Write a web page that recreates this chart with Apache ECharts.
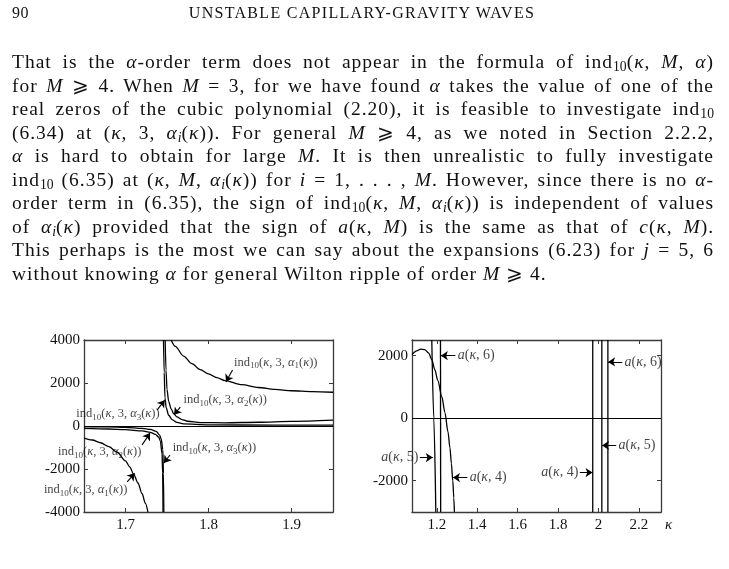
<!DOCTYPE html>
<html>
<head>
<meta charset="utf-8">
<script src="https://cdn.jsdelivr.net/npm/echarts@6/dist/echarts.min.js"></script>
<style>
  html, body { margin: 0; padding: 0; background: #fff; }
  #page { position: relative; width: 729px; height: 569px; overflow: hidden;
          font-family: 'Liberation Serif', 'DejaVu Serif', serif; color: #111; }
  #chart { position: absolute; left: 0; top: 0; width: 729px; height: 569px; }
  #head { position: absolute; top: 4px; left: 12px; width: 700px; font-size: 16px; line-height: 18px; z-index: 2; }
  #head .pg { position: absolute; left: 0; top: 0; letter-spacing: 0.5px; }
  #head .title { text-align: center; letter-spacing: 1.3px; }
  #text { position: absolute; left: 12px; top: 50px; width: 702px; font-size: 19.5px; line-height: 23.5px;
          letter-spacing: 1px; z-index: 2; }
  #text div { text-align: justify; text-align-last: justify; }
  #text div.last { text-align-last: left; }
  #text sub { font-size: 0.7em; vertical-align: -0.25em; line-height: 0; letter-spacing: 0; }
</style>
</head>
<body>
<div id="page">
  <div id="head"><span class="pg">90</span><div class="title">UNSTABLE CAPILLARY-GRAVITY WAVES</div></div>
  <div id="text">
    <div>That is the <i>α</i>-order term does not appear in the formula of ind<sub>10</sub>(<i>κ</i>, <i>M</i>, <i>α</i>)</div>
    <div>for <i>M</i> ⩾ 4. When <i>M</i> = 3, for we have found <i>α</i> takes the value of one of the</div>
    <div>real zeros of the cubic polynomial (2.20), it is feasible to investigate ind<sub>10</sub></div>
    <div>(6.34) at (<i>κ</i>, 3, <i>α<sub>i</sub></i>(<i>κ</i>)). For general <i>M</i> ⩾ 4, as we noted in Section 2.2.2,</div>
    <div><i>α</i> is hard to obtain for large <i>M</i>. It is then unrealistic to fully investigate</div>
    <div>ind<sub>10</sub> (6.35) at (<i>κ</i>, <i>M</i>, <i>α<sub>i</sub></i>(<i>κ</i>)) for <i>i</i> = 1, . . . , <i>M</i>. However, since there is no <i>α</i>-</div>
    <div>order term in (6.35), the sign of ind<sub>10</sub>(<i>κ</i>, <i>M</i>, <i>α<sub>i</sub></i>(<i>κ</i>)) is independent of values</div>
    <div>of <i>α<sub>i</sub></i>(<i>κ</i>) provided that the sign of <i>a</i>(<i>κ</i>, <i>M</i>) is the same as that of <i>c</i>(<i>κ</i>, <i>M</i>).</div>
    <div>This perhaps is the most we can say about the expansions (6.23) for <i>j</i> = 5, 6</div>
    <div class="last">without knowing <i>α</i> for general Wilton ripple of order <i>M</i> ⩾ 4.</div>
  </div>
  <div id="chart"></div>
</div>
<script>
// ---- left panel: ind10(kappa, 3, alpha_i(kappa)), each branch split at its pole
const ind1Low  = [[1.65,-560],[1.66,-650],[1.67,-780],[1.68,-960],[1.69,-1220],[1.70,-1620],[1.705,-1900],[1.71,-2250],[1.715,-2650],[1.72,-3150],[1.724,-3600],[1.727,-4000]];
const ind1High = [[1.755,4000],[1.76,3700],[1.77,3250],[1.78,2900],[1.79,2620],[1.80,2420],[1.81,2250],[1.82,2110],[1.84,1920],[1.86,1790],[1.88,1700],[1.90,1640],[1.925,1600],[1.95,1570]];
const ind2Low  = [[1.65,-25],[1.68,-40],[1.70,-60],[1.72,-110],[1.73,-160],[1.737,-250],[1.741,-420],[1.743,-600],[1.745,-1100],[1.7457,-2200],[1.7462,-4000]];
const ind2High = [[1.7478,4000],[1.7488,2600],[1.75,1700],[1.752,1150],[1.755,800],[1.758,580],[1.762,420],[1.768,300],[1.775,220],[1.79,160],[1.82,150],[1.86,175],[1.90,215],[1.95,270]];
const ind3Low  = [[1.65,-110],[1.68,-140],[1.70,-170],[1.72,-230],[1.73,-300],[1.736,-390],[1.74,-520],[1.742,-700],[1.744,-1300],[1.7448,-2200],[1.7452,-4000]];
const ind3High = [[1.7458,4000],[1.7466,2500],[1.7476,1300],[1.749,850],[1.752,500],[1.756,300],[1.762,170],[1.77,100],[1.80,55],[1.88,40],[1.95,40]];

// ---- right panel: a(kappa, M) for M = 4, 5, 6
const a4Near = [[1.077,2030],[1.10,2150],[1.12,2210],[1.14,2190],[1.16,2080],[1.175,1870],[1.19,1550],[1.205,1200],[1.225,680],[1.24,180],[1.255,-430],[1.265,-950],[1.272,-1450],[1.279,-2000],[1.284,-2550],[1.287,-3000]];
const a5Near = [[1.175,2500],[1.185,0],[1.195,-3000]];
const a6Near = [[1.218,2500],[1.219,-3000]];
const a4Far  = [[1.972,2500],[1.972,-3000]];
const a5Far  = [[2.017,2500],[2.017,-3000]];
const a6Far  = [[2.047,2500],[2.047,-3000]];

// ticks
const xTicksL = [1.7, 1.8, 1.9];
const yTicksL = [-4000, -2000, 0, 2000, 4000];
const xTicksR = [1.2, 1.4, 1.6, 1.8, 2, 2.2];
const yTicksR = [-2000, 0, 2000];

// annotations: [anchor, text key, side] and arrows [from, to] in data units
const notesL = [
  [[1.829, 2950], 'ind:1', 'right'],
  [[1.768, 1200], 'ind:2', 'right'],
  [[1.743, 560], 'ind:3', 'left'],
  [[1.721, -1210], 'ind:2', 'left'],
  [[1.755, -1020], 'ind:3', 'right'],
  [[1.704, -2980], 'ind:1', 'left']
];
const arrowsL = [
  [[1.829, 2600], [1.821, 2060]],
  [[1.766, 880], [1.7585, 520]],
  [[1.738, 740], [1.7472, 1200]],
  [[1.720, -880], [1.7295, -330]],
  [[1.7536, -1350], [1.7463, -1720]],
  [[1.702, -2600], [1.711, -2200]]
];
const notesR = [
  [[1.296, 2000], 'a:6', 'right'],
  [[1.116, -1260], 'a:5', 'left'],
  [[1.355, -1900], 'a:4', 'right'],
  [[1.908, -1740], 'a:4', 'left'],
  [[2.092, -870], 'a:5', 'right'],
  [[2.122, 1800], 'a:6', 'right']
];
const arrowsR = [
  [[1.292, 2000], [1.220, 2000]],
  [[1.116, -1260], [1.180, -1260]],
  [[1.351, -1900], [1.280, -1900]],
  [[1.908, -1740], [1.971, -1740]],
  [[2.088, -870], [2.018, -870]],
  [[2.118, 1800], [2.048, 1800]]
];

const FONT = 'Liberation Serif';
const INK = '#000';
const AXIS = '#3a3a3a';

function it(s) { return '{i|' + s + '}'; }
function sb(s) { return '{sb|' + s + '}'; }
function labelText(key) {
  const [kind, n] = key.split(':');
  if (kind === 'ind') return '{n|ind}' + sb('10') + '{n|(}' + it('κ') + '{n|, 3, }' + it('α') + sb(n) + '{n|(}' + it('κ') + '{n|))}';
  return it('a') + '{n|(}' + it('κ') + '{n|, ' + n + ')}';
}

function xAxisPair(grid, min, max, ticks, fmt, extra) {
  const base = {
    type: 'value', gridIndex: grid, min: min, max: max,
    axisLine: { show: true, onZero: false, lineStyle: { color: AXIS, width: 1.3 } },
    axisTick: { show: true, inside: true, length: 4, customValues: ticks, lineStyle: { color: AXIS } },
    splitLine: { show: false }
  };
  return [
    Object.assign({}, base, { position: 'bottom',
      axisLabel: { customValues: ticks, formatter: fmt, fontFamily: FONT, fontSize: 15, color: '#111', margin: 6 } }, extra || {}),
    Object.assign({}, base, { position: 'top', axisLabel: { show: false } })
  ];
}
function yAxisPair(grid, min, max, ticks) {
  const base = {
    type: 'value', gridIndex: grid, min: min, max: max,
    axisLine: { show: true, onZero: false, lineStyle: { color: AXIS, width: 1.3 } },
    axisTick: { show: true, inside: true, length: 4, customValues: ticks, lineStyle: { color: AXIS } },
    splitLine: { show: false }
  };
  return [
    Object.assign({}, base, { position: 'left',
      axisLabel: { customValues: ticks, formatter: v => String(v), fontFamily: FONT, fontSize: 15, color: '#111', margin: 4 } }),
    Object.assign({}, base, { position: 'right', axisLabel: { show: false } })
  ];
}

function curve(data, xi, yi) {
  return { type: 'line', data: data, xAxisIndex: xi, yAxisIndex: yi, showSymbol: false,
    smooth: 0.3, smoothMonotone: 'x', silent: true,
    lineStyle: { color: INK, width: 1.3 } };
}
function zeroLine(xi, yi) {
  return { type: 'line', data: [], xAxisIndex: xi, yAxisIndex: yi, silent: true,
    markLine: { silent: true, symbol: 'none', label: { show: false }, animation: false,
      lineStyle: { color: INK, width: 1.1, type: 'solid' }, data: [{ yAxis: 0 }] } };
}
function arrows(list, xi, yi) {
  return { type: 'lines', coordinateSystem: 'cartesian2d', xAxisIndex: xi, yAxisIndex: yi,
    silent: true, symbol: ['none', 'arrow'], symbolSize: 7,
    lineStyle: { color: INK, width: 1.1, opacity: 1 },
    data: list.map(c => ({ coords: c })) };
}
function notes(list, xi, yi, size) {
  const base = { fontFamily: FONT, fontSize: size, color: '#111', lineHeight: 16, verticalAlign: 'middle' };
  return { type: 'scatter', xAxisIndex: xi, yAxisIndex: yi, symbolSize: 1, silent: true, z: 5,
    itemStyle: { color: 'rgba(0,0,0,0)' },
    labelLayout: { hideOverlap: false },
    data: list.map(n => ({ value: n[0], txt: labelText(n[1]),
      label: { position: n[2], distance: 1 } })),
    label: { show: true, formatter: p => p.data.txt, fontFamily: FONT, fontSize: size, color: '#111',
      rich: {
        n: base,
        i: Object.assign({}, base, { fontStyle: 'italic' }),
        sb: { fontFamily: FONT, fontSize: Math.round(size * 0.72), color: '#111', lineHeight: 9, verticalAlign: 'bottom' }
      } } };
}

const chart = echarts.init(document.getElementById('chart'), null, { renderer: 'canvas' });
chart.setOption({
  animation: false,
  backgroundColor: 'transparent',
  grid: [
    { left: 84, top: 340, width: 249, height: 172 },
    { left: 412, top: 340, width: 249, height: 172 }
  ],
  xAxis: [
    ...xAxisPair(0, 1.65, 1.95, xTicksL, v => v.toFixed(1)),
    ...xAxisPair(1, 1.077, 2.31, xTicksR, v => (v === 2 ? '2' : v.toFixed(1)), {
      name: 'κ', nameLocation: 'end', nameGap: 4,
      nameTextStyle: { fontFamily: FONT, fontStyle: 'italic', fontSize: 15, color: '#111',
        verticalAlign: 'top', padding: [6, 0, 0, 0] } })
  ],
  yAxis: [
    ...yAxisPair(0, -4000, 4000, yTicksL),
    ...yAxisPair(1, -3000, 2500, yTicksR)
  ],
  series: [
    zeroLine(0, 0),
    curve(ind1Low, 0, 0), curve(ind1High, 0, 0),
    curve(ind2Low, 0, 0), curve(ind2High, 0, 0),
    curve(ind3Low, 0, 0), curve(ind3High, 0, 0),
    arrows(arrowsL, 0, 0),
    notes(notesL, 0, 0, 12.5),
    zeroLine(2, 2),
    curve(a4Near, 2, 2), curve(a5Near, 2, 2), curve(a6Near, 2, 2),
    curve(a4Far, 2, 2), curve(a5Far, 2, 2), curve(a6Far, 2, 2),
    arrows(arrowsR, 2, 2),
    notes(notesR, 2, 2, 14)
  ]
});
</script>
</body>
</html>
